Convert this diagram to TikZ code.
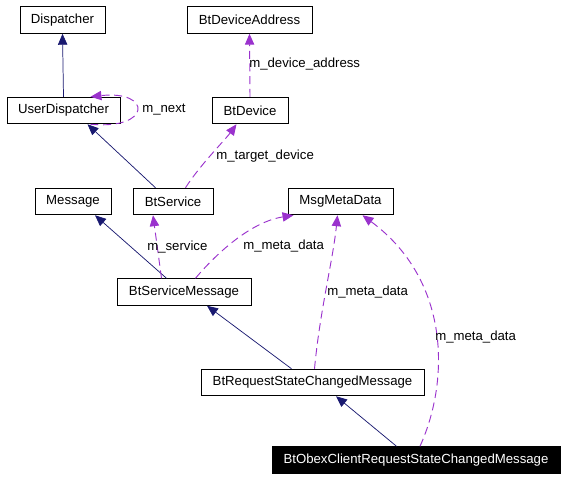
\documentclass[tikz,border=0pt]{standalone}
\usepackage{fontspec}
\setmainfont{Liberation Sans}
\usepackage{tikz}
\usetikzlibrary{arrows.meta,calc}
\definecolor{inhcol}{HTML}{191970}
\definecolor{usecol}{HTML}{9A32CD}
\tikzset{
  cls/.style={draw=black,line width=0.75pt,minimum width=#1*0.75pt,
    minimum height=26.5*0.75pt,inner sep=0pt,font=\fontsize{9.9}{12}\selectfont},
  inh/.style={inhcol,line width=0.55pt,-{Triangle[length=8.2pt,width=7pt]}},
  use/.style={usecol,line width=0.7pt,dash pattern=on 6pt off 3.5pt,
    -{Triangle[length=8.2pt,width=7pt]}},
  lbl/.style={anchor=west,inner sep=0pt,font=\fontsize{9.9}{12}\selectfont}
}
\begin{document}
\begin{tikzpicture}[x=0.75pt,y=-0.75pt]
\useasboundingbox (0,0) rectangle (565,480);
% classes
\node[cls=85]  (disp) at (62.5,20)  {Dispatcher};
\node[cls=125] (bda)  at (249.5,20) {BtDeviceAddress};
\node[cls=113] (ud)   at (63.5,110.5) {UserDispatcher};
\node[cls=76]  (btd)  at (250,110.5) {BtDevice};
\node[cls=76]  (msg)  at (73,201.5) {Message};
\node[cls=80]  (bts)  at (173,201.5) {BtService};
\node[cls=105] (mmd)  at (340.5,201.5) {MsgMetaData};
\node[cls=134] (bsm)  at (184,292) {BtServiceMessage};
\node[cls=223] (brs)  at (312.5,382.5) {BtRequestStateChangedMessage};
\node[cls=288,fill=black,text=white] (obex) at (416,460) {BtObexClientRequestStateChangedMessage};
% inheritance
\draw[inh] (ud.north) -- (disp.south);
\draw[inh] ($(bts.north west)+(23,0)$) -- ($(ud.south)+(24,0)$);
\draw[inh] ($(bsm.north west)+(50,0)$) -- ($(msg.south)+(22,0)$);
\draw[inh] ($(brs.north west)+(91,0)$) -- ($(bsm.south)+(23,0)$);
\draw[inh] ($(obex.north west)+(125,0)$) -- ($(brs.south)+(23.5,0)$);
% members
\draw[use] (btd.north) -- (bda.south);
\draw[use] ($(ud.south)+(27,0)$) .. controls (152,130) and (152,90) .. ($(ud.north)+(27,0)$);
\draw[use] ($(bts.north west)+(53,0)$) .. controls (200,165) and (225,140) .. ($(btd.south west)+(25,0)$);
\draw[use] ($(bsm.north west)+(45,0)$) -- ($(bts.south)+(-20,0)$);
\draw[use] ($(bsm.north west)+(79,0)$) .. controls (215,255) and (250,222) .. ($(mmd.south west)+(6,0)$);
\draw[use] ($(brs.north)+(2,0)$) .. controls (320,310) and (333,260) .. ($(mmd.south)+(-3,0)$);
\draw[use] ($(obex.north)+(4,0)$) .. controls (450,380) and (450,280) .. ($(mmd.south)+(22,0)$);
% labels
\node[lbl] (l1) at (249,64)  {m\_device\_address};
\node[lbl] (l2) at (142,110) {m\_next};
\node[lbl] (l3) at (216,156) {m\_target\_device};
\node[lbl] (l4) at (147,247) {m\_service};
\node[lbl] (l5) at (243,246) {m\_meta\_data};
\node[lbl] (l6) at (327,292) {m\_meta\_data};
\node[lbl] (l7) at (435,337) {m\_meta\_data};
\end{tikzpicture}
\end{document}
